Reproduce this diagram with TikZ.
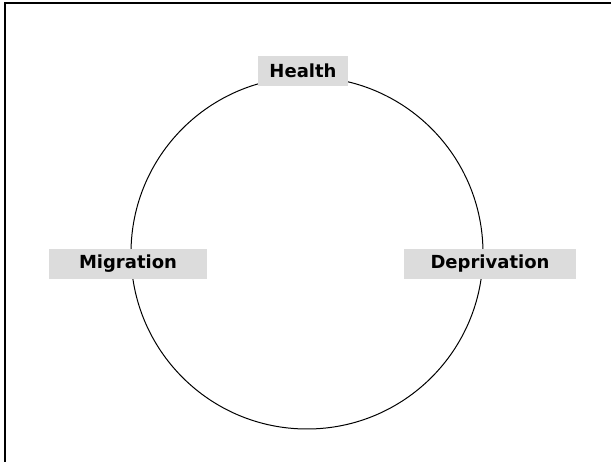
\documentclass[tikz,border=0pt]{standalone}
\usepackage{fontspec}
\setsansfont{DejaVu Sans}
\usepackage{tikz}
\definecolor{labelgray}{RGB}{220,220,220}

\begin{document}
\begin{tikzpicture}[
    x=1pt, y=-1pt,
    every node/.style={font=\sffamily\bfseries\fontsize{18}{21}\selectfont},
    tag/.style={rectangle, fill=labelgray, inner sep=0pt, minimum height=30pt, align=center},
    cycle/.style={draw, line width=1pt}
]
\useasboundingbox (0,0) rectangle (611,462);

% Frame
\draw[line width=2pt] (611,3.5) -- (4.5,3.5) -- (4.5,462);

% Circle
\coordinate (centre) at (307,253);
\draw[cycle] (centre) circle[radius=176pt];

% Labels
\node[tag, minimum width=90pt] (health) at (303,71) {Health};
\node[tag, minimum width=158pt] (migration) at (128,264) {Migration};
\node[tag, minimum width=172pt] (deprivation) at (490,264) {Deprivation};

\end{tikzpicture}
\end{document}
